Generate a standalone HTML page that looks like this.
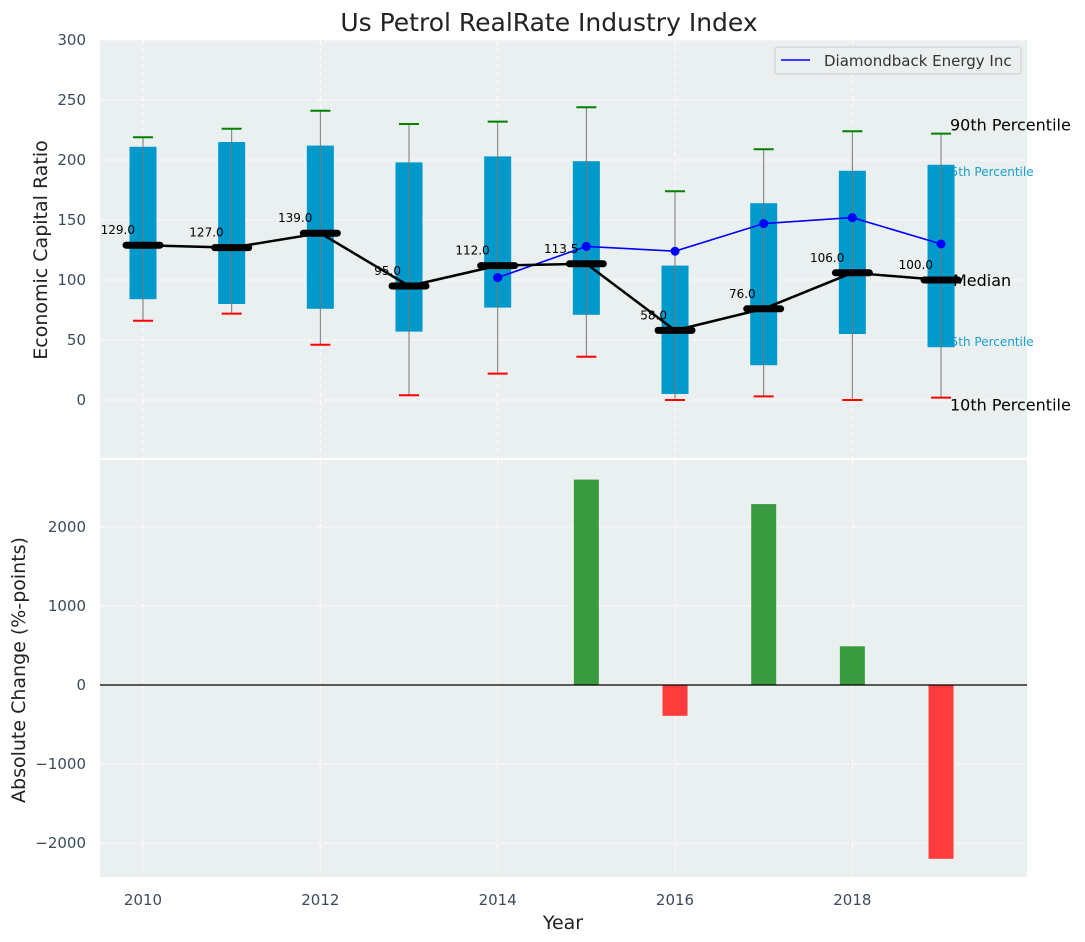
<!DOCTYPE html>
<html><head><meta charset="utf-8"><style>
body{margin:0;background:#fff;}
svg{display:block;font-family:"DejaVu Sans","Liberation Sans",sans-serif;}
</style></head><body>
<svg id="c" width="1085" height="942" xmlns="http://www.w3.org/2000/svg"></svg>
<script>
const years=[2010,2011,2012,2013,2014,2015,2016,2017,2018,2019];
const p10=[66,72,46,4,22,36,0,3,0,2];
const p25=[84,80,76,57,77,71,5,29,55,44];
const med=[129,127,139,95,112,113.5,58,76,106,100];
const p75=[211,215,212,198,203,199,112,164,191,196];
const p90=[219,226,241,230,232,244,174,209,224,222];
const compYears=[2014,2015,2016,2017,2018,2019];
const compVals=[102,128,124,147,152,130];
const changes=[0,0,0,0,0,2600,-390,2290,490,-2200];
const topTicks=[0,50,100,150,200,250,300];
const botTicks=[-2000,-1000,0,1000,2000];
const xTicks=[2010,2012,2014,2016,2018];

const NS="http://www.w3.org/2000/svg";
const svg=document.getElementById('c');
function el(tag,attrs,parent,text){const e=document.createElementNS(NS,tag);for(const k in attrs)e.setAttribute(k,attrs[k]);if(text!==undefined)e.textContent=text;(parent||svg).appendChild(e);return e;}
const L=100,R=1027;
const x=v=>143+(v-2010)*88.67;
const yT=v=>400-v*1.2;
const yB=v=>685-v*0.079;

let e;
e=el('rect',{x:L,y:40,width:R-L,height:418,fill:'#eaeff0'});

e=el('rect',{x:L,y:460,width:R-L,height:417,fill:'#eaeff0'});


topTicks.forEach(t=>{el('line',{x1:L,x2:R,y1:yT(t),y2:yT(t),stroke:'#fff','stroke-dasharray':'5,3','stroke-width':1});
 e=el('text',{x:86,y:yT(t)+5,'text-anchor':'end','font-size':15,fill:'#3b4a5c'},svg,t);
 });
botTicks.forEach(t=>{el('line',{x1:L,x2:R,y1:yB(t),y2:yB(t),stroke:'#fff','stroke-dasharray':'5,3','stroke-width':1});
 e=el('text',{x:86,y:yB(t)+5,'text-anchor':'end','font-size':15,fill:'#3b4a5c'},svg,t<0?'\u2212'+Math.abs(t):t);
 });
xTicks.forEach(t=>{el('line',{x1:x(t),x2:x(t),y1:40,y2:458,stroke:'#fff','stroke-dasharray':'5,3'});
 el('line',{x1:x(t),x2:x(t),y1:460,y2:877,stroke:'#fff','stroke-dasharray':'5,3'});
 e=el('text',{x:x(t),y:905,'text-anchor':'middle','font-size':15,fill:'#3b4a5c'},svg,t);
 });

const lbl=(tx,yy,txt,size,col,name)=>{e=el('text',{x:tx,y:yy,'font-size':size,fill:col},svg,txt);};
const last=years.length-1;
lbl(950,yT(p90[last])-3,'90th Percentile',16,'#000','label-90th');
lbl(943,yT(p75[last])+11,'75th Percentile',12,'#1aa0d0','label-75th');
lbl(953,yT(med[last])+6,'Median',16,'#000','label-median');
lbl(943,yT(p25[last])-1,'25th Percentile',12,'#1aa0d0','label-25th');
lbl(950,yT(p10[last])+13,'10th Percentile',16,'#000','label-10th');

years.forEach((yr,i)=>{
 const cx=x(yr);
 e=el('rect',{x:cx-13.5,y:yT(p75[i]),width:27,height:yT(p25[i])-yT(p75[i]),fill:'#0099cc'});
 
 el('line',{x1:cx,x2:cx,y1:yT(p90[i]),y2:yT(p10[i]),stroke:'#777','stroke-width':1});
 el('line',{x1:cx-10,x2:cx+10,y1:yT(p90[i]),y2:yT(p90[i]),stroke:'green','stroke-width':2});
 el('line',{x1:cx-10,x2:cx+10,y1:yT(p10[i]),y2:yT(p10[i]),stroke:'red','stroke-width':2});
});
e=el('polyline',{points:compYears.map((yr,i)=>x(yr)+','+yT(compVals[i])).join(' '),fill:'none',stroke:'blue','stroke-width':1.6});

compYears.forEach((yr,i)=>{e=el('circle',{cx:x(yr),cy:yT(compVals[i]),r:4.5,fill:'blue'});
 });
e=el('polyline',{points:years.map((yr,i)=>x(yr)+','+yT(med[i])).join(' '),fill:'none',stroke:'#000','stroke-width':2.5});

years.forEach((yr,i)=>{const cx=x(yr);
 e=el('line',{x1:cx-17,x2:cx+17,y1:yT(med[i]),y2:yT(med[i]),stroke:'#000','stroke-width':7,'stroke-linecap':'round'});
 
 e=el('text',{x:cx-8,y:yT(med[i])-11,'text-anchor':'end','font-size':12,fill:'#000'},svg,med[i].toFixed(1));
 });

const lg=el('g',{});
el('rect',{x:775,y:47,width:246,height:27,rx:3,fill:'#eaeff0',stroke:'#ccc'},lg);
el('line',{x1:781,x2:810,y1:60,y2:60,stroke:'blue','stroke-width':1.6},lg);
el('text',{x:824,y:66,'font-size':15,fill:'#333'},lg,'Diamondback Energy Inc');

years.forEach((yr,i)=>{if(!changes[i])return;const v=changes[i];
 e=el('rect',{x:x(yr)-12.5,y:Math.min(yB(v),yB(0)),width:25,height:Math.abs(yB(v)-yB(0)),fill:v>0?'#3a9a3f':'#ff3b3b'});
 });
el('line',{x1:L,x2:R,y1:yB(0),y2:yB(0),stroke:'#000','stroke-width':1.2});

e=el('text',{x:549,y:31,'text-anchor':'middle','font-size':25,fill:'#222'},svg,'Us Petrol RealRate Industry Index');

e=el('text',{x:0,y:0,'text-anchor':'middle','font-size':19,fill:'#222',transform:'translate(47,250) rotate(-90)'},svg,'Economic Capital Ratio');

e=el('text',{x:0,y:0,'text-anchor':'middle','font-size':19,fill:'#222',transform:'translate(25,670) rotate(-90)'},svg,'Absolute Change (%-points)');

e=el('text',{x:563,y:929,'text-anchor':'middle','font-size':19,fill:'#222'},svg,'Year');

</script>
</body></html>
